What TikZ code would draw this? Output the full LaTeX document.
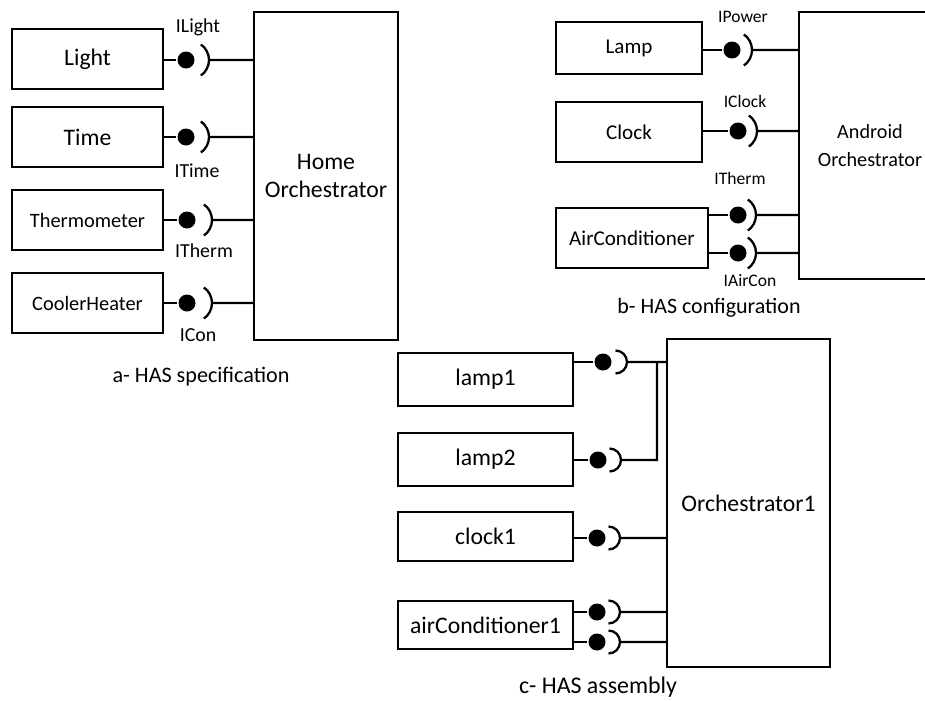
\documentclass[tikz,border=0pt]{standalone}
\usepackage{fontspec}
\setmainfont{Carlito}
\usepackage{tikz}
\usetikzlibrary{arrows,positioning}

\begin{document}
\begin{tikzpicture}[x=0.02cm,y=-0.02cm,line width=1.3pt]
  \tikzstyle{box}=[draw,rectangle,line width=1.2pt,align=center,inner sep=0pt]
  \tikzstyle{bigtext}=[font=\fontsize{13.5}{16}\selectfont]
  \tikzstyle{midtext}=[font=\fontsize{12}{15}\selectfont]
  \tikzstyle{smalltext}=[font=\fontsize{11.6}{15}\selectfont]
  \tikzstyle{ball}=[circle,fill=black,inner sep=0pt,minimum size=0.34cm]
  \tikzstyle{lbl}=[font=\fontsize{11.3}{13}\selectfont,inner sep=0pt]
  \tikzstyle{lbl b}=[font=\fontsize{10}{12}\selectfont,inner sep=0pt]
  \tikzstyle{caption}=[inner sep=0pt]

  \useasboundingbox (0,0) rectangle (925,700);

  % a- HAS specification
  \node[box,bigtext,minimum width=3.02cm,minimum height=1.2cm]   (light)    at (87.5,59)  {Light};
  \node[box,bigtext,minimum width=3.02cm,minimum height=1.2cm]   (time)     at (87.5,137) {Time};
  \node[box,smalltext,minimum width=3.02cm,minimum height=1.2cm] (therm)    at (87.5,220) {Thermometer};
  \node[box,smalltext,minimum width=3.02cm,minimum height=1.2cm] (cooler)   at (87.5,303) {CoolerHeater};
  \node[box,bigtext,minimum width=2.88cm,minimum height=6.56cm]  (homeOrch) at (326,176)  {Home\\Orchestrator};

  \node[ball] (lightB)  at (186,60)  {};
  \node[ball] (timeB)   at (186,137) {};
  \node[ball] (thermB)  at (187,220) {};
  \node[ball] (coolerB) at (187,303) {};
  \coordinate (lightS)  at (209,60);
  \coordinate (timeS)   at (209,137);
  \coordinate (thermS)  at (212,220);
  \coordinate (coolerS) at (212,303);

  \draw (lightB -| light.east) -- (lightB);
  \draw (timeB -| time.east) -- (timeB);
  \draw (thermB -| therm.east) -- (thermB);
  \draw (coolerB -| cooler.east) -- (coolerB);
  \draw (lightS -| homeOrch.west) -- (lightS) arc[start angle=0,end angle=55,radius=.38cm]
        (lightS) arc[start angle=0,end angle=-55,radius=.38cm];
  \draw (timeS -| homeOrch.west) -- (timeS) arc[start angle=0,end angle=55,radius=.38cm]
        (timeS) arc[start angle=0,end angle=-55,radius=.38cm];
  \draw (thermS -| homeOrch.west) -- (thermS) arc[start angle=0,end angle=55,radius=.38cm]
        (thermS) arc[start angle=0,end angle=-55,radius=.38cm];
  \draw (coolerS -| homeOrch.west) -- (coolerS) arc[start angle=0,end angle=55,radius=.38cm]
        (coolerS) arc[start angle=0,end angle=-55,radius=.38cm];

  \node[lbl] (lightL)  at (198,27)  {ILight};
  \node[lbl] (timeL)   at (197,171) {ITime};
  \node[lbl] (thermL)  at (204,251) {ITherm};
  \node[lbl] (coolerL) at (198,335) {ICon};
  \node[caption,font=\fontsize{12.6}{15}\selectfont] (capA) at (201,377) {a- HAS specification};

  % b- HAS configuration
  \node[box,midtext,minimum width=2.92cm,minimum height=1.04cm] (lamp)    at (629,48)    {Lamp};
  \node[box,midtext,minimum width=2.92cm,minimum height=1.2cm]  (clock)   at (629,132)   {Clock};
  \node[box,midtext,minimum width=3.04cm,minimum height=1.2cm]  (aircon)  at (632,238)   {AirConditioner};
  \node[box,font=\fontsize{11.5}{16}\selectfont,minimum width=2.84cm,minimum height=5.34cm]
        (android) at (870,145.5) {Android\\Orchestrator};

  \node[ball] (lampB)    at (732,50)  {};
  \node[ball] (clockB)   at (738,131) {};
  \node[ball] (airconB)  at (738,215) {};
  \node[ball] (airconB2) at (738,253) {};
  \coordinate (lampS)    at (752,50);
  \coordinate (clockS)   at (757,131);
  \coordinate (airconS)  at (756,215);
  \coordinate (airconS2) at (756,253);

  \draw (lampB -| lamp.east) -- (lampB);
  \draw (clockB -| clock.east) -- (clockB);
  \draw (airconB -| aircon.east) -- (airconB);
  \draw (airconB2 -| aircon.east) -- (airconB2);
  \draw (lampS -| android.west) -- (lampS) arc[start angle=0,end angle=55,radius=.38cm]
        (lampS) arc[start angle=0,end angle=-55,radius=.38cm];
  \draw (clockS -| android.west) -- (clockS) arc[start angle=0,end angle=55,radius=.38cm]
        (clockS) arc[start angle=0,end angle=-55,radius=.38cm];
  \draw (airconS -| android.west) -- (airconS) arc[start angle=0,end angle=55,radius=.38cm]
        (airconS) arc[start angle=0,end angle=-55,radius=.38cm];
  \draw (airconS2 -| android.west) -- (airconS2) arc[start angle=0,end angle=55,radius=.38cm]
        (airconS2) arc[start angle=0,end angle=-55,radius=.38cm];

  \node[lbl b] (lampL)    at (743,17)  {IPower};
  \node[lbl b] (clockL)   at (745,101) {IClock};
  \node[lbl b] (airconL)  at (740,178) {ITherm};
  \node[lbl b] (airconL2) at (750,281) {IAirCon};
  \node[caption,font=\fontsize{12.5}{15}\selectfont] (capB) at (709,308) {b- HAS configuration};

  % c- HAS assembly
  \node[box,bigtext,minimum width=3.5cm,minimum height=1.06cm] (lamp1)   at (485.5,379.5) {lamp1};
  \node[box,bigtext,minimum width=3.5cm,minimum height=1.06cm] (lamp2)   at (485.5,459.5) {lamp2};
  \node[box,bigtext,minimum width=3.5cm,minimum height=0.98cm] (clock1)  at (485.5,536.5) {clock1};
  \node[box,bigtext,minimum width=3.5cm,minimum height=0.96cm] (aircon1) at (485.5,625)   {airConditioner1};
  \node[box,bigtext,minimum width=3.26cm,minimum height=6.56cm] (orch1)  at (748.5,503)   {Orchestrator1};

  \node[ball] (lamp1B)    at (603,362) {};
  \node[ball] (lamp2B)    at (598,460) {};
  \node[ball] (clock1B)   at (597,538) {};
  \node[ball] (aircon1B)  at (597,612) {};
  \node[ball] (aircon1B2) at (597,642) {};
  \coordinate (lamp1S)    at (627,362);
  \coordinate (lamp2S)    at (621,460);
  \coordinate (clock1S)   at (620,538);
  \coordinate (aircon1S)  at (620,612);
  \coordinate (aircon1S2) at (620,642);
  \coordinate (joint)     at (657,362);

  \draw (lamp1B -| lamp1.east) -- (lamp1B);
  \draw (lamp2B -| lamp2.east) -- (lamp2B);
  \draw (clock1B -| clock1.east) -- (clock1B);
  \draw (aircon1B -| aircon1.east) -- (aircon1B);
  \draw (aircon1B2 -| aircon1.east) -- (aircon1B2);
  \draw (lamp1S -| orch1.west) -- (lamp1S) arc[start angle=0,end angle=90,radius=.23cm]
        (lamp1S) arc[start angle=0,end angle=-90,radius=.23cm];
  \draw (joint) |- (lamp2S) arc[start angle=0,end angle=90,radius=.23cm]
        (lamp2S) arc[start angle=0,end angle=-90,radius=.23cm];
  \draw (clock1S -| orch1.west) -- (clock1S) arc[start angle=0,end angle=90,radius=.23cm]
        (clock1S) arc[start angle=0,end angle=-90,radius=.23cm];
  \draw (aircon1S -| orch1.west) -- (aircon1S) arc[start angle=0,end angle=90,radius=.23cm]
        (aircon1S) arc[start angle=0,end angle=-90,radius=.23cm];
  \draw (aircon1S2 -| orch1.west) -- (aircon1S2) arc[start angle=0,end angle=90,radius=.23cm]
        (aircon1S2) arc[start angle=0,end angle=-90,radius=.23cm];

  \node[caption,font=\fontsize{13.6}{16}\selectfont] (capC) at (598,687) {c- HAS assembly};
\end{tikzpicture}
\end{document}
